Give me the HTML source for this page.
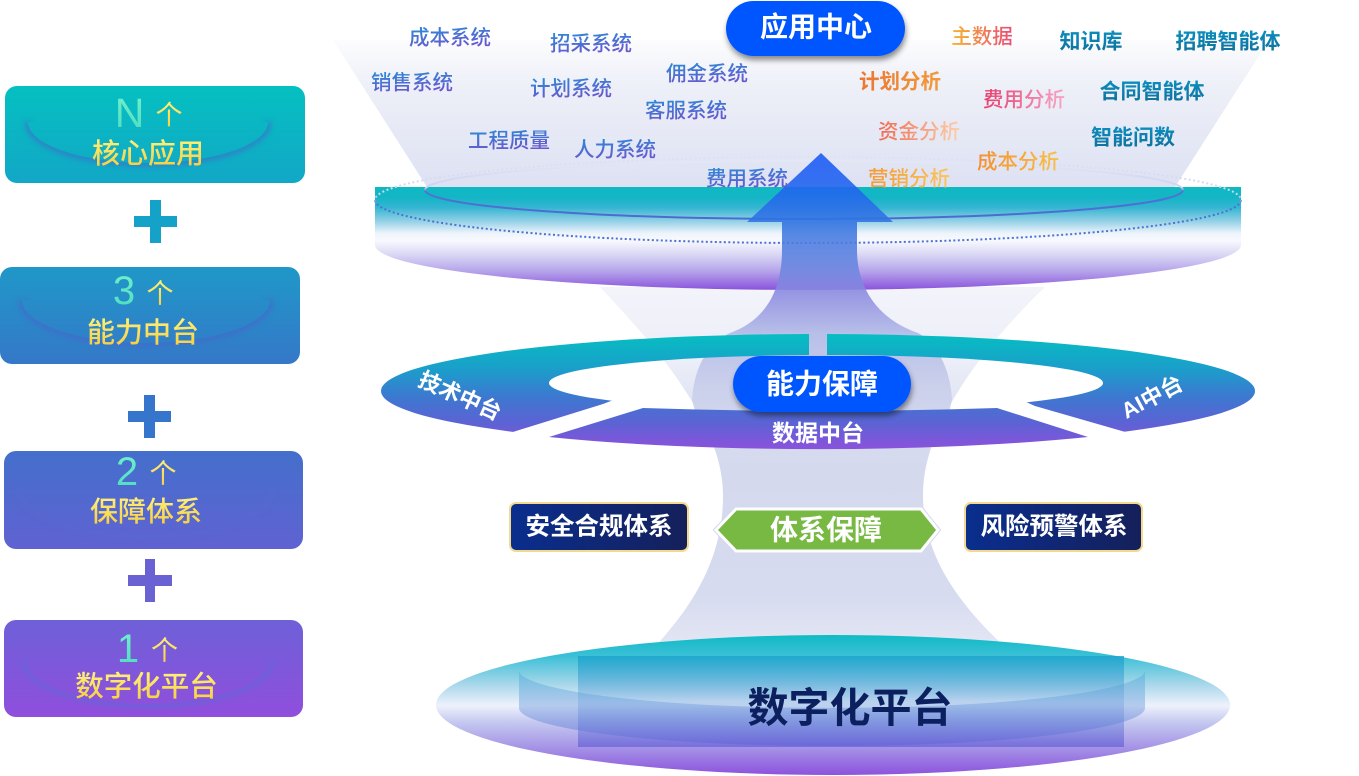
<!DOCTYPE html>
<html><head><meta charset="utf-8">
<style>
html,body{margin:0;padding:0;background:#fff;}
svg{display:block;}
text{font-family:"Liberation Sans","Noto Sans CJK SC",sans-serif;}
</style></head>
<body>
<svg width="1359" height="776" viewBox="0 0 1359 776" xmlns="http://www.w3.org/2000/svg">
<defs>
  <linearGradient id="gFunnel" gradientUnits="userSpaceOnUse" x1="0" y1="30" x2="0" y2="187">
    <stop offset="0" stop-color="#ffffff"/>
    <stop offset="0.35" stop-color="#eef0f8"/>
    <stop offset="1" stop-color="#dde1f2"/>
  </linearGradient>
  <linearGradient id="gHour" gradientUnits="userSpaceOnUse" x1="0" y1="287" x2="0" y2="650">
    <stop offset="0" stop-color="#f3f4fa"/>
    <stop offset="0.2" stop-color="#eceef8"/>
    <stop offset="0.4" stop-color="#d8dcf0"/>
    <stop offset="0.5" stop-color="#d4d9ee"/>
    <stop offset="0.85" stop-color="#d7dbef"/>
    <stop offset="1" stop-color="#e4e7f4"/>
  </linearGradient>
  <linearGradient id="gDisc" gradientUnits="userSpaceOnUse" x1="0" y1="187" x2="0" y2="290">
    <stop offset="0" stop-color="#0fb9c3"/>
    <stop offset="0.1" stop-color="#13b5c5"/>
    <stop offset="0.2" stop-color="#35b5d2"/>
    <stop offset="0.33" stop-color="#92d0e6"/>
    <stop offset="0.45" stop-color="#eef4fc"/>
    <stop offset="0.52" stop-color="#f8f9ff"/>
    <stop offset="0.66" stop-color="#d8d6f4"/>
    <stop offset="0.82" stop-color="#b4a3ea"/>
    <stop offset="1" stop-color="#8a52dc"/>
  </linearGradient>
  <linearGradient id="gArrow" gradientUnits="userSpaceOnUse" x1="0" y1="153" x2="0" y2="430">
    <stop offset="0" stop-color="#1858f6"/>
    <stop offset="0.12" stop-color="#1f62f0"/>
    <stop offset="0.25" stop-color="#3274e2"/>
    <stop offset="0.4" stop-color="#6585df"/>
    <stop offset="0.5" stop-color="#8a88e0"/>
    <stop offset="0.65" stop-color="#b0b8e6"/>
    <stop offset="0.85" stop-color="#c8cdea"/>
    <stop offset="1" stop-color="#d2d7ee"/>
  </linearGradient>
  <linearGradient id="gRing" gradientUnits="userSpaceOnUse" x1="0" y1="334" x2="0" y2="449">
    <stop offset="0" stop-color="#06bec2"/>
    <stop offset="0.3" stop-color="#1a9fca"/>
    <stop offset="0.55" stop-color="#3d78d0"/>
    <stop offset="0.78" stop-color="#5d62d4"/>
    <stop offset="1" stop-color="#8b52dc"/>
  </linearGradient>
  <linearGradient id="gBottom" gradientUnits="userSpaceOnUse" x1="0" y1="635" x2="0" y2="776">
    <stop offset="0" stop-color="#0fbbc5"/>
    <stop offset="0.15" stop-color="#3cc0d7"/>
    <stop offset="0.35" stop-color="#a8d7ea"/>
    <stop offset="0.5" stop-color="#eef1fb"/>
    <stop offset="0.62" stop-color="#c4c8f0"/>
    <stop offset="0.8" stop-color="#a593e6"/>
    <stop offset="1" stop-color="#8c4fdc"/>
  </linearGradient>
  <linearGradient id="gRect" gradientUnits="userSpaceOnUse" x1="0" y1="656" x2="0" y2="747">
    <stop offset="0" stop-color="#1aa3cc" stop-opacity="0.8"/>
    <stop offset="0.5" stop-color="#6ea2dc" stop-opacity="0.35"/>
    <stop offset="1" stop-color="#5a55d4" stop-opacity="0.6"/>
  </linearGradient>
  <linearGradient id="gCyl" gradientUnits="userSpaceOnUse" x1="0" y1="670" x2="0" y2="746">
    <stop offset="0" stop-color="#3aa0d4" stop-opacity="0.3"/>
    <stop offset="1" stop-color="#5a60d4" stop-opacity="0.4"/>
  </linearGradient>
  <linearGradient id="gInner" gradientUnits="userSpaceOnUse" x1="0" y1="161" x2="0" y2="219">
    <stop offset="0" stop-color="#e4e7f6"/>
    <stop offset="0.46" stop-color="#cdd3f0"/>
    <stop offset="0.52" stop-color="#4f74d3"/>
    <stop offset="1" stop-color="#4a6cd0"/>
  </linearGradient>
  <linearGradient id="gDot" gradientUnits="userSpaceOnUse" x1="0" y1="157" x2="0" y2="243">
    <stop offset="0" stop-color="#dde1f4"/>
    <stop offset="0.45" stop-color="#d0d6f0"/>
    <stop offset="0.55" stop-color="#4b72d3"/>
    <stop offset="1" stop-color="#4b72d3"/>
  </linearGradient>
  <linearGradient id="gNavy" x1="0" y1="0" x2="1" y2="0">
    <stop offset="0" stop-color="#0a2e8e"/>
    <stop offset="1" stop-color="#15205a"/>
  </linearGradient>
  <linearGradient id="gB1" gradientUnits="userSpaceOnUse" x1="0" y1="86" x2="0" y2="183">
    <stop offset="0" stop-color="#05c0c0"/><stop offset="1" stop-color="#12a7c7"/>
  </linearGradient>
  <linearGradient id="gB2" gradientUnits="userSpaceOnUse" x1="0" y1="267" x2="0" y2="364">
    <stop offset="0" stop-color="#1f98c8"/><stop offset="1" stop-color="#3578c8"/>
  </linearGradient>
  <linearGradient id="gB3" gradientUnits="userSpaceOnUse" x1="0" y1="451" x2="0" y2="549">
    <stop offset="0" stop-color="#446fcc"/><stop offset="1" stop-color="#6062d2"/>
  </linearGradient>
  <linearGradient id="gB4" gradientUnits="userSpaceOnUse" x1="0" y1="620" x2="0" y2="717">
    <stop offset="0" stop-color="#6e60d8"/><stop offset="1" stop-color="#904fdc"/>
  </linearGradient>
  <linearGradient id="gYel" x1="0" y1="0" x2="0" y2="1">
    <stop offset="0" stop-color="#fff27c"/><stop offset="1" stop-color="#f6cc3c"/>
  </linearGradient>
  <linearGradient id="gMint" x1="0" y1="0" x2="0" y2="1">
    <stop offset="0" stop-color="#74f2cc"/><stop offset="1" stop-color="#4adcc0"/>
  </linearGradient>
  <linearGradient id="gSys" x1="0" y1="0" x2="0.3" y2="1">
    <stop offset="0" stop-color="#2a8bd6"/><stop offset="1" stop-color="#6a56cf"/>
  </linearGradient>
  <linearGradient id="gTeal" x1="0" y1="0" x2="0" y2="1">
    <stop offset="0" stop-color="#0b8fbf"/><stop offset="1" stop-color="#106e9a"/>
  </linearGradient>
  <linearGradient id="gMain" x1="0" y1="0" x2="1" y2="0">
    <stop offset="0" stop-color="#f7b52e"/><stop offset="1" stop-color="#ea4a78"/>
  </linearGradient>
  <linearGradient id="gPlan" x1="0" y1="0" x2="1" y2="0">
    <stop offset="0" stop-color="#ec7630"/><stop offset="1" stop-color="#f29a3a"/>
  </linearGradient>
  <linearGradient id="gFee" x1="0" y1="0" x2="1" y2="0">
    <stop offset="0" stop-color="#e63e6c"/><stop offset="1" stop-color="#f7a6c6"/>
  </linearGradient>
  <linearGradient id="gFund" x1="0" y1="0" x2="1" y2="0">
    <stop offset="0" stop-color="#f06a50"/><stop offset="1" stop-color="#fcd0a8"/>
  </linearGradient>
  <linearGradient id="gCost" x1="0" y1="0" x2="1" y2="0">
    <stop offset="0" stop-color="#f49030"/><stop offset="1" stop-color="#f8bf48"/>
  </linearGradient>
  <linearGradient id="gMkt" x1="0" y1="0" x2="1" y2="0">
    <stop offset="0" stop-color="#f49a35"/><stop offset="1" stop-color="#f9c560"/>
  </linearGradient>
  <filter id="sh" x="-20%" y="-30%" width="140%" height="180%">
    <feDropShadow dx="1" dy="4" stdDeviation="3" flood-color="#000" flood-opacity="0.45"/>
  </filter>
  <filter id="bl" x="-20%" y="-50%" width="140%" height="200%">
    <feGaussianBlur stdDeviation="3"/>
  </filter>
  <clipPath id="cLeft"><polygon points="300,300 809,300 809,380 640,390 603,404 300,498"/></clipPath>
  <clipPath id="cRight"><polygon points="827,300 1400,300 1400,511 1035,406 1000,390 827,380"/></clipPath>
</defs>

<!-- top funnel -->
<polygon points="333,40 1269,40 1175,187 427,187" fill="url(#gFunnel)"/>

<!-- hourglass -->
<path d="M600,287 C650,340 722,420 723,493 C724,560 690,610 650,652 L1010,652 C965,610 922,560 923,493 C924,420 990,340 1045,287 Z" fill="url(#gHour)"/>

<!-- top disc -->
<path d="M375,187 L1241,187 L1241,245 A433,45 0 0,1 375,245 Z" fill="url(#gDisc)"/>
<ellipse cx="808" cy="200" rx="433" ry="43" fill="none" stroke="url(#gDot)" stroke-width="2" stroke-dasharray="2 2.5"/>
<ellipse cx="804" cy="190" rx="379" ry="29" fill="none" stroke="url(#gInner)" stroke-width="2"/>

<!-- arrow -->
<path d="M821,153 L893,222 L857,222 L857,250 C857,290 880,320 918,333 C935,342 950,365 952,400 L945,430 L700,430 L692,400 C694,365 710,342 730,333 C766,320 782,290 782,250 L782,222 L747,222 Z" fill="url(#gArrow)" opacity="0.88"/>

<!-- ring -->
<g clip-path="url(#cLeft)">
  <path fill-rule="evenodd" fill="url(#gRing)" d="M381,391 A437,57 0 1,0 1255,391 A437,57 0 1,0 381,391 Z M549,383 A277,28 0 1,0 1103,383 A277,28 0 1,0 549,383 Z"/>
</g>
<g clip-path="url(#cRight)">
  <path fill-rule="evenodd" fill="url(#gRing)" d="M381,391 A437,57 0 1,0 1255,391 A437,57 0 1,0 381,391 Z M549,383 A277,28 0 1,0 1103,383 A277,28 0 1,0 549,383 Z"/>
</g>
<path d="M549,437 L643,408 Q820,414 997,408 L1088,437 A437,57 0 0,1 549,437 Z" fill="url(#gRing)"/>

<text x="460" y="396" transform="rotate(24 460 396)" text-anchor="middle" dominant-baseline="central" font-size="22" font-weight="bold" fill="#fff">技术中台</text>
<text x="1152" y="397" transform="rotate(-28 1152 397)" text-anchor="middle" dominant-baseline="central" font-size="22" font-weight="bold" fill="#fff">AI中台</text>
<text x="818" y="433" text-anchor="middle" dominant-baseline="central" font-size="23" font-weight="bold" fill="#fff">数据中台</text>

<rect x="733" y="356" width="178" height="56" rx="28" fill="#0357fe" filter="url(#sh)"/>
<text x="822" y="384" text-anchor="middle" dominant-baseline="central" font-size="28" font-weight="bold" fill="#fff">能力保障</text>

<!-- bottom disc -->
<ellipse cx="833" cy="705" rx="397" ry="70" fill="url(#gBottom)"/>
<path d="M519,670 L519,708 A313,38 0 0,0 1145,708 L1145,670 A313,38 0 0,1 519,670 Z" fill="url(#gCyl)"/>
<rect x="578" y="656" width="546" height="91" fill="url(#gRect)"/>
<text x="850" y="708" text-anchor="middle" dominant-baseline="central" font-size="41" font-weight="bold" fill="#0c1f5e">数字化平台</text>

<!-- system row -->
<rect x="510" y="503" width="178" height="48" rx="6" fill="url(#gNavy)" stroke="#f2d98f" stroke-width="2"/>
<text x="599" y="527" text-anchor="middle" dominant-baseline="central" font-size="24.5" font-weight="bold" fill="#fff">安全合规体系</text>
<rect x="965" y="503" width="177" height="48" rx="6" fill="url(#gNavy)" stroke="#f2d98f" stroke-width="2"/>
<text x="1054" y="527" text-anchor="middle" dominant-baseline="central" font-size="24.5" font-weight="bold" fill="#fff">风险预警体系</text>
<path d="M716,530 L736,509 L921,509 L938,530 L921,551 L736,551 Z" fill="none" stroke="#d2d8ee" stroke-width="5"/>
<path d="M716,530 L736,509 L921,509 L938,530 L921,551 L736,551 Z" fill="#78b943" stroke="#ffffff" stroke-width="3"/>
<text x="826" y="530" text-anchor="middle" dominant-baseline="central" font-size="28" font-weight="bold" fill="#fff">体系保障</text>

<!-- top labels -->
<g font-size="20.5" font-weight="500" text-anchor="middle" dominant-baseline="central" fill="url(#gSys)">
  <text x="450" y="38">成本系统</text>
  <text x="591" y="44">招采系统</text>
  <text x="412" y="83">销售系统</text>
  <text x="571" y="89">计划系统</text>
  <text x="707" y="74">佣金系统</text>
  <text x="686" y="111">客服系统</text>
  <text x="509" y="141">工程质量</text>
  <text x="615" y="150">人力系统</text>
  <text x="747" y="179">费用系统</text>
</g>
<g font-size="20.5" font-weight="500" text-anchor="middle" dominant-baseline="central">
  <text x="982" y="37" fill="url(#gMain)">主数据</text>
  <text x="900" y="82" fill="url(#gPlan)" font-weight="bold">计划分析</text>
  <text x="1024" y="100" fill="url(#gFee)">费用分析</text>
  <text x="919" y="132" fill="url(#gFund)">资金分析</text>
  <text x="1018" y="162" fill="url(#gCost)">成本分析</text>
  <text x="909" y="179" fill="url(#gMkt)">营销分析</text>
</g>
<g font-size="21" font-weight="bold" text-anchor="middle" dominant-baseline="central" fill="url(#gTeal)">
  <text x="1091" y="42">知识库</text>
  <text x="1228" y="42">招聘智能体</text>
  <text x="1152" y="92">合同智能体</text>
  <text x="1133" y="138">智能问数</text>
</g>

<rect x="726" y="1" width="179" height="55" rx="27.5" fill="#0357fe" filter="url(#sh)"/>
<text x="816" y="27" text-anchor="middle" dominant-baseline="central" font-size="28" font-weight="bold" fill="#fff">应用中心</text>

<!-- left panels -->
<rect x="5" y="86" width="300" height="97" rx="12" fill="url(#gB1)"/>
<path d="M28,122 A120,41 0 0,0 268,122" fill="none" stroke="#3a6fc8" stroke-width="7" opacity="0.7" filter="url(#bl)"/>
<path d="M28,122 A120,41 0 0,0 268,122 Z" fill="url(#gB1)"/>
<text x="129.5" y="127" text-anchor="middle" font-size="41" fill="url(#gMint)">N</text>
<text x="169" y="115.5" text-anchor="middle" dominant-baseline="central" font-size="27" fill="url(#gYel)">个</text>
<text x="148" y="153.5" text-anchor="middle" dominant-baseline="central" font-size="28" font-weight="500" fill="url(#gYel)">核心应用</text>

<rect x="134" y="216" width="43" height="11" fill="#14a2c9"/>
<rect x="150" y="200" width="11" height="43" fill="#14a2c9"/>

<rect x="0" y="267" width="300" height="97" rx="12" fill="url(#gB2)"/>
<path d="M22,300 A124,43 0 0,0 270,300" fill="none" stroke="#4a62cc" stroke-width="7" opacity="0.6" filter="url(#bl)"/>
<path d="M22,300 A124,43 0 0,0 270,300 Z" fill="url(#gB2)"/>
<text x="124" y="304" text-anchor="middle" font-size="40" fill="url(#gMint)">3</text>
<text x="160" y="294" text-anchor="middle" dominant-baseline="central" font-size="27" fill="url(#gYel)">个</text>
<text x="143" y="332.5" text-anchor="middle" dominant-baseline="central" font-size="28" font-weight="500" fill="url(#gYel)">能力中台</text>

<rect x="128" y="411" width="43" height="11" fill="#3575cc"/>
<rect x="144" y="395" width="11" height="43" fill="#3575cc"/>

<rect x="4" y="451" width="299" height="98" rx="12" fill="url(#gB3)"/>
<path d="M22,490 A124,44 0 0,0 270,490" fill="none" stroke="#5a6ad0" stroke-width="7" opacity="0.5" filter="url(#bl)"/>
<path d="M22,490 A124,44 0 0,0 270,490 Z" fill="url(#gB3)"/>
<text x="127" y="485" text-anchor="middle" font-size="40" fill="url(#gMint)">2</text>
<text x="163" y="474" text-anchor="middle" dominant-baseline="central" font-size="27" fill="url(#gYel)">个</text>
<text x="146" y="511.5" text-anchor="middle" dominant-baseline="central" font-size="28" font-weight="500" fill="url(#gYel)">保障体系</text>

<rect x="128" y="575" width="44" height="11" fill="#6a62d2"/>
<rect x="145" y="559" width="10" height="43" fill="#6a62d2"/>

<rect x="4" y="620" width="299" height="97" rx="12" fill="url(#gB4)"/>
<path d="M26,660 A122,44 0 0,0 270,660" fill="none" stroke="#5a6ad6" stroke-width="7" opacity="0.6" filter="url(#bl)"/>
<path d="M26,660 A122,44 0 0,0 270,660 Z" fill="url(#gB4)"/>
<text x="128" y="662" text-anchor="middle" font-size="40" fill="url(#gMint)">1</text>
<text x="164.5" y="651" text-anchor="middle" dominant-baseline="central" font-size="27" fill="url(#gYel)">个</text>
<text x="146.5" y="687" text-anchor="middle" dominant-baseline="central" font-size="28.5" font-weight="500" fill="url(#gYel)">数字化平台</text>
</svg>
</body></html>
